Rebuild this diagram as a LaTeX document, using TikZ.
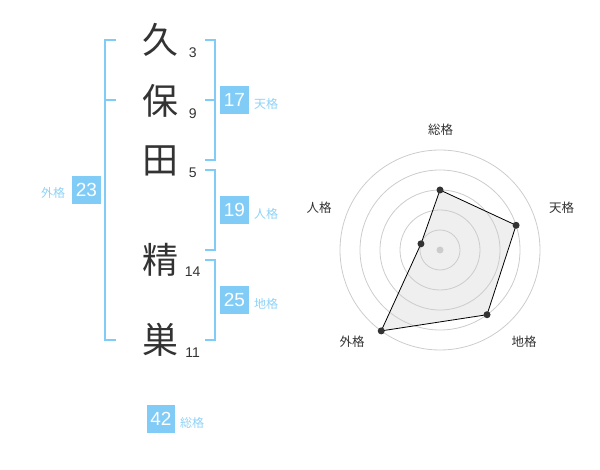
\documentclass[tikz,border=0pt]{standalone}
\usepackage{fontspec}
\setmainfont{Liberation Sans}
\newfontfamily\jp{Noto Sans CJK JP}
\definecolor{blu}{HTML}{80CCF7}
\definecolor{blutxt}{HTML}{8ED2F7}
\definecolor{ink}{HTML}{333333}
\definecolor{ringc}{HTML}{CCCCCC}
\definecolor{areac}{HTML}{EFEFEF}
\begin{document}
\begin{tikzpicture}[x=1pt,y=-1pt,
 kanji/.style={font=\jp\fontsize{36}{36}\selectfont, text=ink, inner sep=0},
 strokes/.style={font=\fontsize{14}{14}\selectfont, text=ink, inner sep=0, anchor=base},
 numbox/.style={fill=blu, text=white, minimum size=28.5pt, inner sep=0, font=\fontsize{19}{19}\selectfont},
 kaku/.style={text=blutxt, font=\jp\fontsize{12}{12}\selectfont, inner sep=0},
 brk/.style={draw=blu, line width=2pt},
 ring/.style={draw=ringc, line width=0.8pt},
 rlabel/.style={text=ink, font=\jp\fontsize{12.5}{12.5}\selectfont, inner sep=0},
 dot/.style={circle, fill=ink, inner sep=0, minimum size=7pt}]
\useasboundingbox (0,0) rectangle (600,470);

% name characters
\node[kanji] (c1) at (160,40) {久};
\node[kanji] (c2) at (160,101) {保};
\node[kanji] (c3) at (160,161) {田};
\node[kanji] (c4) at (160,260) {精};
\node[kanji] (c5) at (160,340) {巣};

% stroke counts
\node[strokes] (s1) at (192.7,57.7) {3};
\node[strokes] (s2) at (192.7,118.3) {9};
\node[strokes] (s3) at (192.7,177.7) {5};
\node[strokes] (s4) at (192.7,276.7) {14};
\node[strokes] (s5) at (192.7,357.7) {11};

% brackets
\draw[brk] (115.5,40) -- (105,40) -- (105,340) -- (115.5,340);
\draw[brk] (105,100) -- (115.5,100);
\draw[brk] (205,40) -- (215,40) -- (215,160) -- (205,160);
\draw[brk] (205,100) -- (215,100);
\draw[brk] (205,170) -- (215,170) -- (215,250) -- (205,250);
\draw[brk] (205,260) -- (215,260) -- (215,340) -- (205,340);

% boxes and labels
\node[numbox] (b23) at (86.5,190) {23};
\node[kaku] (l23) at (53,193) {外格};
\node[numbox] (b17) at (234.5,100) {17};
\node[kaku] (l17) at (266,104) {天格};
\node[numbox] (b19) at (234.5,210) {19};
\node[kaku] (l19) at (266,214) {人格};
\node[numbox] (b25) at (234.5,300) {25};
\node[kaku] (l25) at (266,304) {地格};
\node[numbox] (b42) at (161,419) {42};
\node[kaku] (l42) at (192,423) {総格};

% radar chart
\coordinate (O) at (440,250);
\coordinate (pS) at (440,190);
\coordinate (pT) at (516.08,225.28);
\coordinate (pC) at (487.02,314.72);
\coordinate (pG) at (381.22,330.90);
\coordinate (pJ) at (420.98,243.82);
\fill[areac] (pS) -- (pT) -- (pC) -- (pG) -- (pJ) -- cycle;
\foreach \r in {20,40,60,80,100} \draw[ring] (O) circle (\r);
\fill[ringc] (O) circle (3.5);
\draw[black, line width=0.8pt] (pS) -- (pT) -- (pC) -- (pG) -- (pJ) -- cycle;
\foreach \p in {pS,pT,pC,pG,pJ} \node[dot] at (\p) {};

\node[rlabel] (rS) at (440.7,130) {総格};
\node[rlabel] (rT) at (561.7,208) {天格};
\node[rlabel] (rC) at (524,342) {地格};
\node[rlabel] (rG) at (352,342) {外格};
\node[rlabel] (rJ) at (319,208) {人格};
\end{tikzpicture}
\end{document}
